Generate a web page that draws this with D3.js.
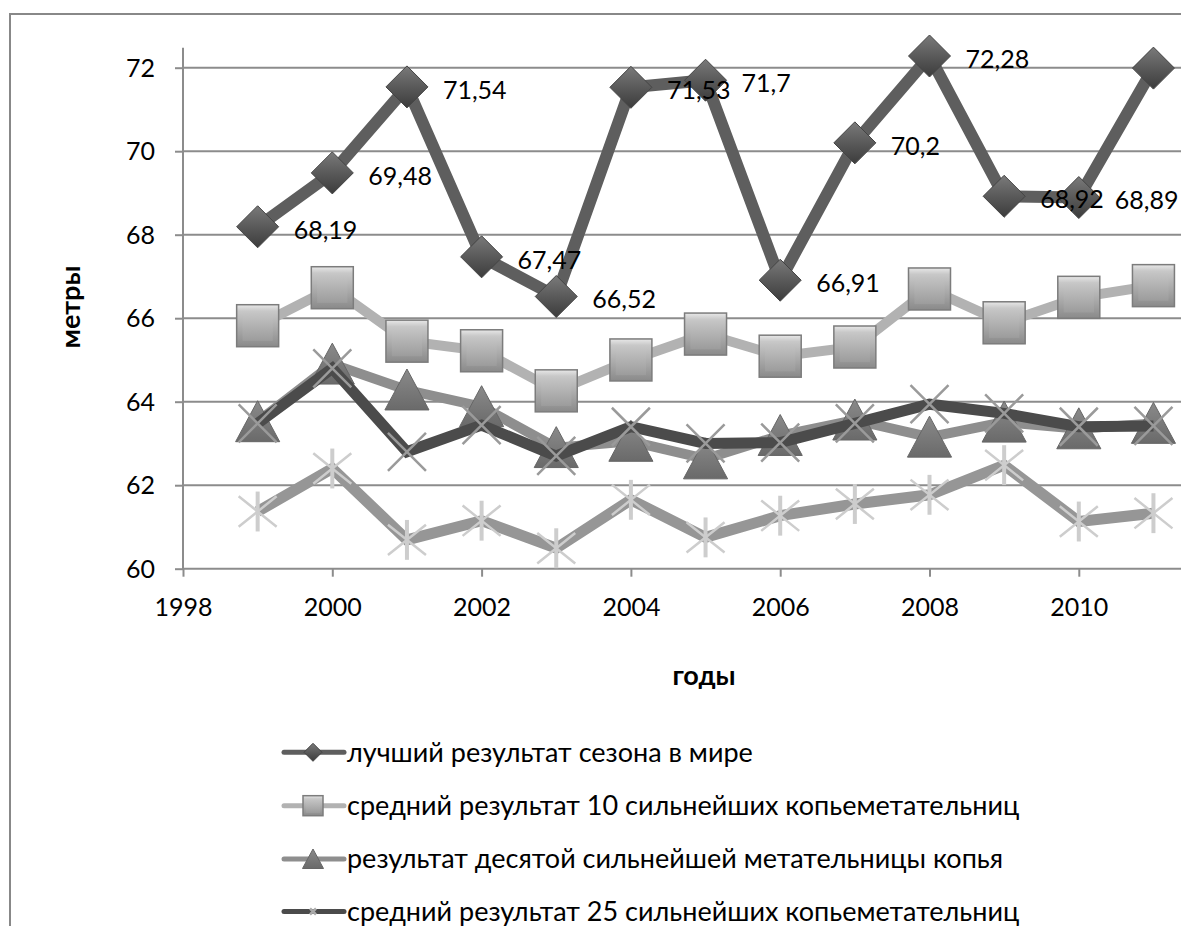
<!DOCTYPE html>
<html><head><meta charset="utf-8">
<script src="https://cdn.jsdelivr.net/npm/d3@7"></script>
<style>
html,body{margin:0;padding:0;background:#fff;}
svg{display:block;}
text{font-family:Lato,"Open Sans","Noto Sans",sans-serif;fill:#000;}
</style></head>
<body>
<svg id="chart" width="1181" height="926"></svg>
<script>
// ---- data ----
const years = [1999,2000,2001,2002,2003,2004,2005,2006,2007,2008,2009,2010,2011];
const bestSeason = [68.19,69.48,71.54,67.47,66.52,71.53,71.7,66.91,70.2,72.28,68.92,68.89,71.99];
const avgTop10 = [65.82,66.73,65.45,65.22,64.26,65.0,65.62,65.09,65.31,66.70,65.89,66.50,66.78];
const tenthBest = [63.52,64.9,64.28,63.88,62.9,63.05,62.63,63.19,63.56,63.15,63.51,63.35,63.48];
const avgTop25 = [63.48,64.8,62.8,63.44,62.7,63.4,63.0,63.02,63.48,63.94,63.72,63.4,63.42];
const fifthSeries = [61.37,62.4,60.69,61.15,60.49,61.65,60.75,61.27,61.55,61.77,62.48,61.13,61.33];
const yTicks = [60,62,64,66,68,70,72];
const xTicks = [1998,2000,2002,2004,2006,2008,2010];
const legendLabels = [
  "лучший результат сезона в мире",
  "средний результат 10 сильнейших копьеметательниц",
  "результат десятой сильнейшей метательницы копья",
  "средний результат 25 сильнейших копьеметательниц"
];
const yTitle = "метры", xTitle = "годы";

// ---- layout ----
const W = 1181;
const svg = d3.select("#chart");
const x = d3.scaleLinear().domain([1998, 2012]).range([183, 183 + 14*74.65]);
const y = d3.scaleLinear().domain([60, 72]).range([568.7, 67.7]);
const plotRight = W, plotTop = 47.7;

const defs = svg.append("defs");
function lg(id, stops){
  const g = defs.append("linearGradient").attr("id", id).attr("x1",0).attr("y1",0).attr("x2",0).attr("y2",1);
  stops.forEach(s=>g.append("stop").attr("offset",s[0]).attr("stop-color",s[1]));
}
lg("gDiam", [[0,"#7a7a7a"],[0.5,"#5a5a5a"],[1,"#3c3c3c"]]);
lg("gSqOuter", [[0,"#e8e8e8"],[0.15,"#c8c8c8"],[1,"#8a8a8a"]]);
lg("gSqInner", [[0,"#c4c4c4"],[1,"#9c9c9c"]]);
lg("gTri", [[0,"#8a8a8a"],[1,"#6a6a6a"]]);

// outer border
svg.append("path").attr("d", "M10,926 L10,14 L1181,14").attr("fill","none").attr("stroke","#888").attr("stroke-width",2);

// gridlines
svg.append("g").selectAll("line").data(yTicks.filter(v=>v>60)).join("line")
  .attr("x1",183).attr("x2",plotRight).attr("y1",d=>y(d)).attr("y2",d=>y(d))
  .attr("stroke","#8c8c8c").attr("stroke-width",2);

// axes
const yAxis = d3.axisLeft(y).tickValues(yTicks).tickSize(8).tickPadding(20).tickFormat(d3.format("d"));
const gy = svg.append("g").attr("transform","translate(183,0)").call(yAxis);
gy.select(".domain").remove();
gy.selectAll(".tick line").attr("stroke","#8c8c8c").attr("stroke-width",2);
gy.selectAll("text").attr("font-size",25).attr("dy","0.35em");
svg.append("line").attr("x1",183).attr("x2",183).attr("y1",plotTop).attr("y2",569.7).attr("stroke","#8c8c8c").attr("stroke-width",2);

const xAxis = d3.axisBottom(x).tickValues(xTicks).tickSize(8).tickPadding(22).tickFormat(d3.format("d"));
const gx = svg.append("g").attr("transform","translate(0,568.7)").call(xAxis);
gx.select(".domain").remove();
gx.selectAll(".tick line").attr("stroke","#8c8c8c").attr("stroke-width",2);
gx.selectAll("text").attr("font-size",25);
svg.append("line").attr("x1",182).attr("x2",plotRight).attr("y1",568.7).attr("y2",568.7).attr("stroke","#8c8c8c").attr("stroke-width",2);

// axis titles
svg.append("text").attr("transform","translate(80,307) rotate(-90)").attr("text-anchor","middle")
  .attr("font-size",27).attr("font-weight","bold").text(yTitle);
svg.append("text").attr("x",704).attr("y",685).attr("text-anchor","middle")
  .attr("font-size",27).attr("font-weight","bold").text(xTitle);

// marker drawers
function diamond(g, s){ g.append("path").attr("d",`M0,${-s} L${s},0 L0,${s} L${-s},0 Z`).attr("fill","url(#gDiam)").attr("stroke","#444").attr("stroke-width",1); }
function square(g, s){
  g.append("rect").attr("x",-s).attr("y",-s).attr("width",2*s).attr("height",2*s).attr("fill","url(#gSqOuter)").attr("stroke","#7c7c7c").attr("stroke-width",1.5);
  const i = s*0.72;
  g.append("rect").attr("x",-i).attr("y",-i+s*0.12).attr("width",2*i).attr("height",2*i-s*0.12).attr("fill","url(#gSqInner)");
}
function triangle(g, s){ g.append("path").attr("d",`M0,${-s} L${s*1.05},${s*0.95} L${-s*1.05},${s*0.95} Z`).attr("fill","url(#gTri)").attr("stroke","#666").attr("stroke-width",1); }
function xmark(g, s, col){ g.append("path").attr("d",`M${-s},${-s} L${s},${s} M${-s},${s} L${s},${-s}`).attr("stroke",col).attr("stroke-width",2.5).attr("fill","none"); }
function star(g, s, col){
  g.append("path").attr("d",`M${-s},${-s*0.8} L${s},${s*0.8} M${-s},${s*0.8} L${s},${-s*0.8}`).attr("stroke",col).attr("stroke-width",2.5).attr("fill","none");
  g.append("path").attr("d",`M0,${-s*1.05} L0,${s*1.05}`).attr("stroke",col).attr("stroke-width",4).attr("fill","none");
}

const series = [
  {vals: bestSeason, color:"#5e5e5e", width:12, marker:(g)=>diamond(g,21), legendMarker:(g)=>diamond(g,9), labels:true},
  {vals: avgTop10, color:"#b2b2b2", width:10, marker:(g)=>square(g,21), legendMarker:(g)=>square(g,10)},
  {vals: tenthBest, color:"#8e8e8e", width:10, marker:(g)=>triangle(g,21), legendMarker:(g)=>triangle(g,10)},
  {vals: avgTop25, color:"#4b4b4b", width:11, marker:(g)=>xmark(g,19,"#9a9a9a"), legendMarker:(g)=>xmark(g,3,"#aaa")},
  {vals: fifthSeries, color:"#969696", width:11, marker:(g)=>star(g,19,"#cdcdcd"), legendMarker:null}
];

const line = d3.line().x(d=>x(d.year)).y(d=>y(d.v));
series.forEach(s=>{
  const pts = years.map((yr,i)=>({year:yr, v:s.vals[i]}));
  svg.append("path").datum(pts).attr("d",line).attr("fill","none").attr("stroke",s.color)
    .attr("stroke-width",s.width).attr("stroke-linejoin","miter");
  pts.forEach(p=>{
    const g = svg.append("g").attr("transform",`translate(${x(p.year)},${y(p.v)})`);
    s.marker(g);
  });
  if(s.labels){
    // labels that would start past the right edge of the picture are not shown (as in the reference)
    svg.append("g").selectAll("text").data(pts.filter(d=>x(d.year)+36 < W-20)).join("text")
      .attr("x",d=>x(d.year)+36).attr("y",d=>y(d.v)+3).attr("dy","0.35em").attr("font-size",25)
      .text(d=>String(d.v).replace(".",","));
  }
});

// legend
const rowY = [752.3, 805.7, 859, 911.5];
legendLabels.forEach((lab,i)=>{
  const s = series[i];
  svg.append("line").attr("x1",284).attr("x2",344).attr("y1",rowY[i]).attr("y2",rowY[i])
    .attr("stroke",s.color).attr("stroke-width",5).attr("stroke-linecap","round");
  const g = svg.append("g").attr("transform",`translate(313,${rowY[i]})`);
  s.legendMarker(g);
  svg.append("text").attr("x",347).attr("y",rowY[i]).attr("dy","0.35em").attr("font-size",27).text(lab);
});
</script>
</body></html>
